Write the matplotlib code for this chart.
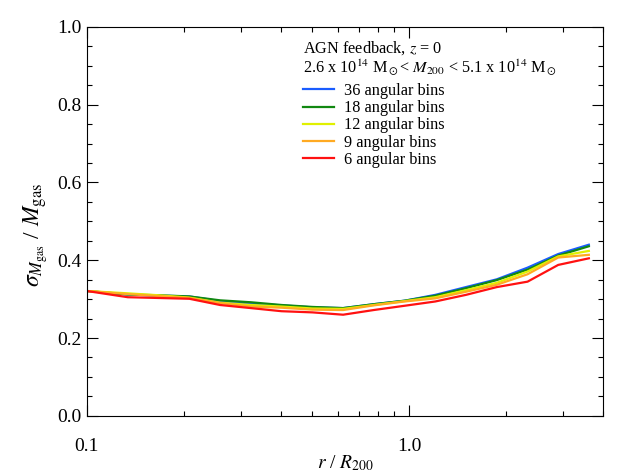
import matplotlib
matplotlib.use('Agg')
import matplotlib.pyplot as plt
from matplotlib.ticker import MultipleLocator, FixedLocator, LogLocator, NullFormatter

plt.rcParams['font.family'] = ['Liberation Serif', 'DejaVu Serif']
plt.rcParams['mathtext.fontset'] = 'stix'

# radial bins (r / R200)
r_bins = [0.100, 0.134, 0.167, 0.208, 0.259, 0.323, 0.402, 0.501, 0.624,
          0.776, 0.968, 1.205, 1.50, 1.87, 2.33, 2.90, 3.61]

# scatter of gas mass for different numbers of angular bins
bins36 = [0.321, 0.312, 0.309, 0.307, 0.295, 0.289, 0.284, 0.279, 0.277,
          0.287, 0.296, 0.311, 0.331, 0.351, 0.381, 0.416, 0.440]
bins18 = [0.321, 0.312, 0.310, 0.307, 0.297, 0.292, 0.285, 0.280, 0.277,
          0.287, 0.296, 0.309, 0.328, 0.349, 0.376, 0.412, 0.436]
bins12 = [0.321, 0.315, 0.310, 0.304, 0.291, 0.285, 0.281, 0.276, 0.275,
          0.285, 0.295, 0.305, 0.323, 0.342, 0.371, 0.410, 0.424]
bins9 = [0.321, 0.313, 0.308, 0.303, 0.290, 0.281, 0.278, 0.273, 0.272,
         0.284, 0.294, 0.302, 0.319, 0.337, 0.364, 0.407, 0.414]
bins6 = [0.321, 0.305, 0.303, 0.301, 0.285, 0.277, 0.269, 0.266, 0.260,
         0.272, 0.283, 0.294, 0.311, 0.331, 0.345, 0.388, 0.405]

series = [(bins36, '#1a5cff', '36 angular bins'),
          (bins18, '#118811', '18 angular bins'),
          (bins12, '#e0f000', '12 angular bins'),
          (bins9, '#ffaa22', '9 angular bins'),
          (bins6, '#ff1111', '6 angular bins')]

fig = plt.figure(figsize=(6.29, 4.72), dpi=100)
ax = fig.add_axes([0.138, 0.119, 0.821, 0.824])

for vals, col, lab in series:
    ax.plot(r_bins, vals, color=col, lw=1.6, label=lab)

ax.set_xscale('log')
ax.set_xlim(0.1, 4.0)
ax.set_ylim(0.0, 1.0)

ax.xaxis.set_major_locator(FixedLocator([0.1, 1.0]))
ax.set_xticklabels(['0.1', '1.0'])
ax.xaxis.set_minor_locator(LogLocator(base=10, subs=range(2, 10)))
ax.xaxis.set_minor_formatter(NullFormatter())
ax.yaxis.set_major_locator(MultipleLocator(0.2))
ax.yaxis.set_minor_locator(MultipleLocator(0.05))
ax.yaxis.set_major_formatter(plt.FuncFormatter(lambda v, p: '%.1f' % v))

ax.tick_params(which='both', direction='in', top=True, right=True, labelsize=14)
ax.tick_params(which='major', length=8, width=0.8)
ax.tick_params(which='minor', length=3.6, width=0.8)
ax.tick_params(axis='x', which='major', pad=16)
ax.tick_params(axis='y', which='major', pad=4)

ax.set_xlabel(r'$r$ / $R_{200}$', fontsize=14, labelpad=-1)
ax.set_ylabel(r'$\sigma_{M_{\rm gas}}$ / $M_{\rm gas}$', fontsize=17)
ax.yaxis.set_label_coords(-0.07, 0.465)

title = ('AGN feedback, $z$ = 0\n'
         r'2.6 x 10$^{14}$ M$_\odot$< $M_{200}$ < 5.1 x 10$^{14}$ M$_\odot$')
leg = ax.legend(loc='upper left', bbox_to_anchor=(0.418, 0.968), frameon=False,
                fontsize=11.7, title=title, title_fontsize=11.7, borderpad=0,
                borderaxespad=0, handlelength=1.9, handletextpad=0.65,
                labelspacing=0.07)
leg._legend_box.align = 'left'
leg._legend_box.sep = 4.5
leg.get_title().set_linespacing(1.0)

fig.savefig('out.png', dpi=100)
